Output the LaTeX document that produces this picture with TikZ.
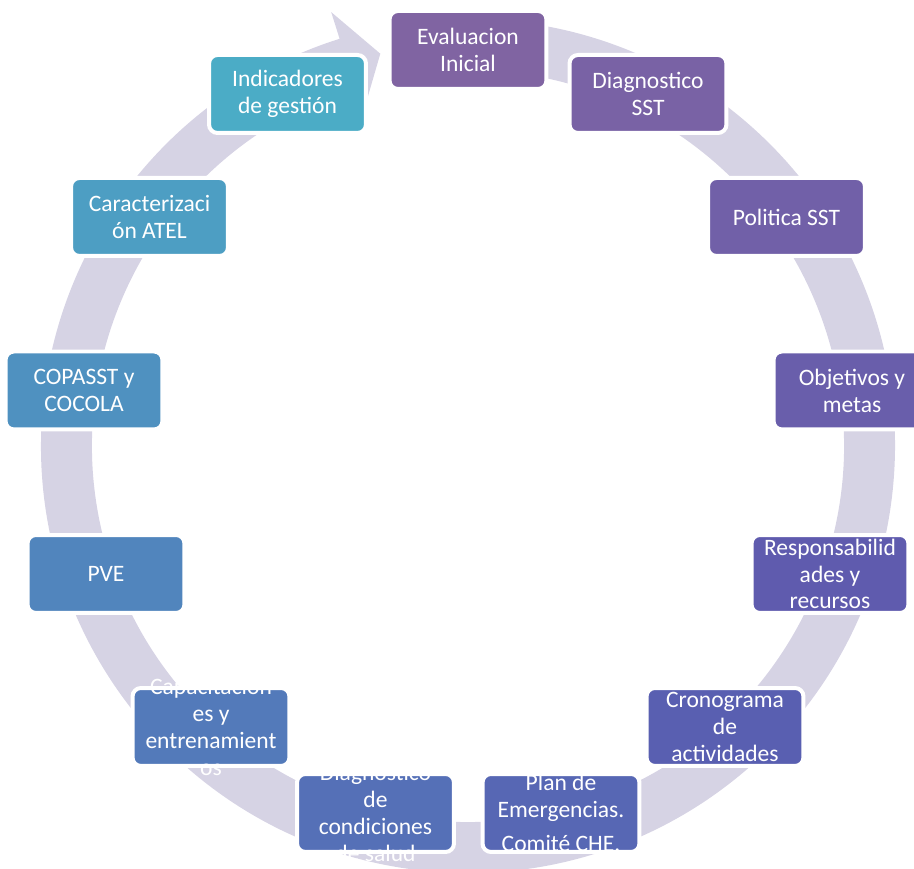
\documentclass[tikz,border=0pt]{standalone}
\usepackage{fontspec}
\setmainfont{Carlito}
\usetikzlibrary{positioning}

\definecolor{ringfill}{HTML}{D6D3E4}
\definecolor{cA}{HTML}{8064A2}
\definecolor{cB}{HTML}{7962A5}
\definecolor{cC}{HTML}{7160A8}
\definecolor{cD}{HTML}{695EAB}
\definecolor{cE}{HTML}{5F5BAE}
\definecolor{cF}{HTML}{595FB1}
\definecolor{cG}{HTML}{5767B4}
\definecolor{cH}{HTML}{5570B7}
\definecolor{cI}{HTML}{537ABA}
\definecolor{cJ}{HTML}{5185BD}
\definecolor{cK}{HTML}{4F91C0}
\definecolor{cL}{HTML}{4D9EC3}
\definecolor{cM}{HTML}{4BACC6}

\begin{document}
\begin{tikzpicture}[x=0.02cm, y=0.02cm,
    stagebox/.style={rectangle, rounded corners=0.17cm, fill=#1, draw=white,
        line width=0.08cm, minimum width=3.14cm, minimum height=1.56cm, inner sep=0pt},
    boxtext/.style={text=white, align=center, inner sep=0pt,
        font=\fontsize{13.4}{15.3}\selectfont}]

\useasboundingbox (0,0) rectangle (914,869);
\coordinate (ring_c) at (468,423);

% circular arrow
\fill[ringfill] ([shift={(ring_c)}]84:427) arc[start angle=84, end angle=-252.5, radius=427]
    -- ([shift={(ring_c)}]107.5:455) -- ([shift={(ring_c)}]102.6:402)
    -- ([shift={(ring_c)}]107.5:349) -- ([shift={(ring_c)}]107.5:376)
    arc[start angle=-252.5, end angle=84, radius=376] -- cycle;

\node[stagebox=cA, label={[boxtext]center:Evaluacion\\Inicial}] (eval_box) at (468,819) {};
\node[stagebox=cB, label={[boxtext]center:Diagnostico\\SST}] (diag_box) at (648,775) {};
\node[stagebox=cC, label={[boxtext]center:Politica SST}] (pol_box) at (786.5,652) {};
\node[stagebox=cD, label={[boxtext]center:Objetivos y\\metas}] (obj_box) at (852,478.5) {};
\node[stagebox=cE, label={[boxtext]center:Responsabilid\\ades y\\recursos}] (resp_box) at (830,295) {};
\node[stagebox=cF, label={[boxtext]center:Cronograma\\de\\actividades}] (crono_box) at (725,142) {};
\node[stagebox=cG, label={[boxtext]center:Plan de\\Emergencias.\\[4pt]Comité CHE.}] (plan_box) at (561,56) {};
\node[stagebox=cH, label={[boxtext]center:Diagnostico\\de\\condiciones\\de salud}] (salud_box) at (375.5,56) {};
\node[stagebox=cI, label={[boxtext]center:Capacitacion\\es y\\entrenamient\\os}] (capa_box) at (211,142) {};
\node[stagebox=cJ, label={[boxtext]center:PVE}] (pve_box) at (106,295) {};
\node[stagebox=cK, label={[boxtext]center:COPASST y\\COCOLA}] (copasst_box) at (84,478.5) {};
\node[stagebox=cL, label={[boxtext]center:Caracterizaci\\ón ATEL}] (atel_box) at (149.5,652) {};
\node[stagebox=cM, label={[boxtext]center:Indicadores\\de gestión}] (ind_box) at (287.5,775) {};

\end{tikzpicture}
\end{document}
